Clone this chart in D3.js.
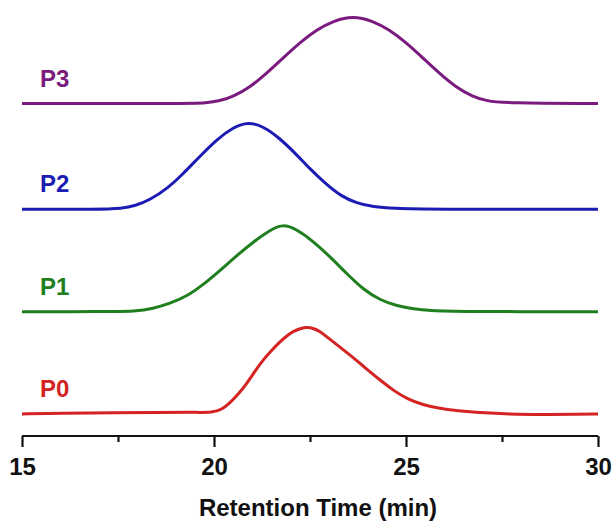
<!DOCTYPE html>
<html>
<head>
<meta charset="utf-8">
<script src="https://cdn.jsdelivr.net/npm/d3@7"></script>
<style>
  html, body { margin: 0; padding: 0; background: #fff; }
  svg { display: block; }
</style>
</head>
<body>
<svg id="chart" width="614" height="527"></svg>
<script>
// Normalised GPC traces, retention time (min) vs. relative detector response
const seriesNames = ["P0", "P1", "P2", "P3"];
const seriesColors = ["#d42323", "#1f7f1f", "#1c1cb4", "#7a1a7e"];
const seriesOffsets = [0, 1.19, 2.38, 3.61];

const p0Time = [15, 16, 17.5, 18.5, 19.5, 19.97, 20.2, 20.42, 20.65, 20.86, 21.07, 21.28, 21.5, 21.72, 21.9, 22.06, 22.25, 22.42, 22.6, 22.76, 22.93, 23.10, 23.46, 23.88, 24.32, 24.7, 25.03, 25.44, 25.89, 26.3, 26.74, 27.2, 27.63, 28.49, 29.5, 30];
const p0Value = [0, 0.012, 0.012, 0.02, 0.02, 0.016, 0.05, 0.13, 0.24, 0.36, 0.5, 0.63, 0.74, 0.84, 0.91, 0.96, 0.995, 1.01, 0.995, 0.96, 0.9, 0.84, 0.715, 0.56, 0.395, 0.265, 0.175, 0.105, 0.065, 0.04, 0.023, 0.01, 0.0, -0.006, -0.004, 0];

const p1Time = [15, 17.0, 18.0, 18.4, 18.85, 19.3, 19.71, 20.16, 20.6, 21.02, 21.46, 21.8, 22.16, 22.58, 23.02, 23.46, 23.88, 24.32, 24.77, 25.2, 25.63, 26.3, 30];
const p1Value = [0, 0.0, 0.004, 0.035, 0.095, 0.18, 0.31, 0.48, 0.655, 0.81, 0.95, 1.02, 0.955, 0.82, 0.64, 0.44, 0.26, 0.135, 0.065, 0.03, 0.012, 0, 0];

const p2Time = [15, 17.0, 17.6, 17.95, 18.33, 18.78, 19.19, 19.64, 20.08, 20.49, 20.89, 21.3, 21.7, 22.1, 22.5, 22.9, 23.3, 23.72, 24.14, 24.7, 25.5, 30];
const p2Value = [0, 0.0, 0.01, 0.04, 0.11, 0.24, 0.41, 0.62, 0.815, 0.95, 1.02, 0.96, 0.83, 0.66, 0.47, 0.3, 0.155, 0.07, 0.028, 0.01, 0, 0];

const p3Time = [15, 19.3, 19.8, 20.15, 20.49, 20.94, 21.38, 21.80, 22.24, 22.68, 23.10, 23.62, 24.14, 24.56, 25.0, 25.44, 25.86, 26.30, 26.74, 27.1, 27.6, 30];
const p3Value = [0, 0, 0.008, 0.03, 0.08, 0.19, 0.355, 0.53, 0.71, 0.86, 0.96, 1.02, 0.96, 0.86, 0.71, 0.53, 0.355, 0.19, 0.08, 0.03, 0.005, 0];

const xTicks = [15, 17.5, 20, 22.5, 25, 27.5, 30];
const xTickLabels = ["15", "", "20", "", "25", "", "30"];
const xTitle = "Retention Time (min)";

const traces = [
  { name: seriesNames[0], color: seriesColors[0], offset: seriesOffsets[0], t: p0Time, v: p0Value },
  { name: seriesNames[1], color: seriesColors[1], offset: seriesOffsets[1], t: p1Time, v: p1Value },
  { name: seriesNames[2], color: seriesColors[2], offset: seriesOffsets[2], t: p2Time, v: p2Value },
  { name: seriesNames[3], color: seriesColors[3], offset: seriesOffsets[3], t: p3Time, v: p3Value }
];

const svg = d3.select("#chart");
const margin = { left: 22, right: 16, axisY: 436 };
const font = "Liberation Sans, Arial, sans-serif";

const x = d3.scaleLinear().domain([15, 30]).range([margin.left, 614 - margin.right]);
const y = d3.scaleLinear().domain([0, 4.61]).range([414, 414 - 4.61 * 86]);

// B-spline smoothing through the sampled trace points
const line = d3.line()
  .x(d => x(d[0]))
  .y(d => y(d[1]))
  .curve(d3.curveBasis);

const plot = svg.append("g");

traces.forEach(tr => {
  const pts = tr.t.map((t, i) => [t, tr.v[i] + tr.offset]);
  plot.append("path")
    .datum(pts)
    .attr("fill", "none")
    .attr("stroke", tr.color)
    .attr("stroke-width", 3)
    .attr("stroke-linejoin", "round")
    .attr("d", line);

  plot.append("text")
    .attr("x", 40)
    .attr("y", y(tr.offset) - 17)
    .attr("fill", tr.color)
    .attr("font-family", font)
    .attr("font-weight", "bold")
    .attr("font-size", 24)
    .text(tr.name);
});

// Bottom axis: long ticks on whole fives, short ticks between
const axis = d3.axisBottom(x)
  .tickValues(xTicks)
  .tickSize(0)
  .tickPadding(0)
  .tickFormat((d, i) => xTickLabels[i]);

const gx = svg.append("g")
  .attr("transform", `translate(0,${margin.axisY})`)
  .call(axis);

gx.select(".domain")
  .attr("stroke", "#111")
  .attr("stroke-width", 2.2)
  .attr("d", `M${x(15)},0H${x(30)}`);

gx.selectAll(".tick line")
  .attr("stroke", "#111")
  .attr("stroke-width", 2.2)
  .attr("y2", (d, i) => (xTickLabels[i] ? 11 : 6));

gx.selectAll(".tick text")
  .attr("y", 39)
  .attr("dy", 0)
  .attr("fill", "#111")
  .attr("font-family", font)
  .attr("font-weight", "bold")
  .attr("font-size", 24);

svg.append("text")
  .attr("x", 318)
  .attr("y", 516)
  .attr("text-anchor", "middle")
  .attr("fill", "#111")
  .attr("font-family", font)
  .attr("font-weight", "bold")
  .attr("font-size", 24)
  .text(xTitle);
</script>
</body>
</html>
